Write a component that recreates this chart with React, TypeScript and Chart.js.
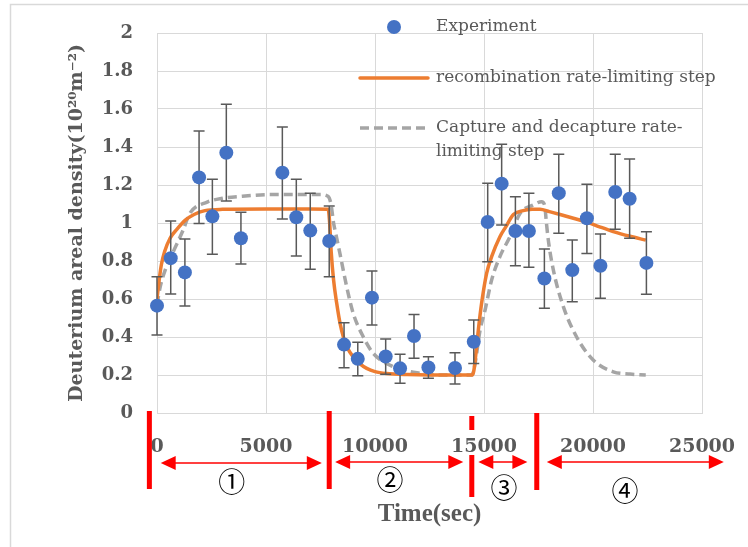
import React, { useEffect, useRef } from "react";
import { Chart, registerables } from "chart.js";

Chart.register(...registerables);

// ---- Data ----
const expTime = [0, 630, 1280, 1930, 2540, 3180, 3850, 5750, 6390, 7030, 7900, 8580, 9210, 9860, 10490, 11150, 11790, 12450, 13670, 14530, 15170, 15810, 16440, 17060, 17770, 18430, 19050, 19720, 20340, 21020, 21680, 22450];
const expValue = [0.565, 0.815, 0.74, 1.24, 1.035, 1.37, 0.92, 1.265, 1.03, 0.96, 0.905, 0.36, 0.285, 0.607, 0.297, 0.235, 0.405, 0.24, 0.237, 0.375, 1.005, 1.207, 0.958, 0.958, 0.708, 1.157, 0.752, 1.025, 0.775, 1.163, 1.128, 0.79];
const expLower = [0.41, 0.626, 0.563, 0.998, 0.835, 1.116, 0.784, 1.021, 0.826, 0.756, 0.717, 0.238, 0.196, 0.463, 0.204, 0.156, 0.288, 0.183, 0.153, 0.26, 0.796, 0.99, 0.775, 0.767, 0.551, 0.946, 0.586, 0.84, 0.604, 0.967, 0.92, 0.625];
const expUpper = [0.717, 1.01, 0.916, 1.484, 1.23, 1.625, 1.056, 1.505, 1.23, 1.156, 1.09, 0.475, 0.372, 0.747, 0.39, 0.309, 0.519, 0.296, 0.317, 0.489, 1.209, 1.414, 1.138, 1.156, 0.863, 1.362, 0.911, 1.204, 0.942, 1.362, 1.337, 0.954];

const recTime = [0, 100, 200, 350, 600, 900, 1300, 1700, 2200, 3000, 5000, 7000, 7850, 7920, 7990, 8100, 8240, 8400, 8550, 8750, 9000, 9300, 9620, 10000, 10530, 11500, 12500, 13500, 14450, 14530, 14630, 14740, 14890, 15120, 15350, 15730, 16000, 16350, 16800, 17200, 17570, 18000, 18490, 19100, 19710, 20300, 20930, 21700, 22420];
const recValue = [0.6, 0.7, 0.78, 0.85, 0.92, 0.965, 1.015, 1.045, 1.065, 1.072, 1.074, 1.074, 1.073, 1.0, 0.85, 0.7, 0.58, 0.47, 0.4, 0.34, 0.296, 0.26, 0.235, 0.218, 0.208, 0.202, 0.2, 0.2, 0.2, 0.22, 0.314, 0.437, 0.577, 0.735, 0.823, 0.928, 0.98, 1.045, 1.065, 1.072, 1.073, 1.06, 1.045, 1.025, 1.005, 0.98, 0.955, 0.93, 0.91];

const capTime = [0, 150, 400, 750, 1200, 1500, 2300, 3000, 3800, 5300, 7500, 7850, 7980, 8100, 8165, 8390, 8700, 9000, 9465, 9920, 10840, 12060, 13000, 14450, 14590, 14820, 15050, 15350, 15730, 16190, 16650, 17260, 17640, 17790, 17850, 17950, 18180, 18640, 19250, 20010, 20930, 21700, 22420];
const capValue = [0.57, 0.665, 0.76, 0.85, 0.963, 1.05, 1.11, 1.13, 1.14, 1.15, 1.15, 1.14, 1.1, 1.0, 0.963, 0.84, 0.665, 0.525, 0.4, 0.314, 0.244, 0.209, 0.2, 0.2, 0.26, 0.437, 0.542, 0.7, 0.823, 0.928, 1.05, 1.095, 1.112, 1.09, 1.016, 0.91, 0.753, 0.56, 0.4, 0.279, 0.217, 0.205, 0.2];

const xTickLabels = ["0", "5000", "10000", "15000", "20000", "25000"];
const yTickLabels = ["0", "0.2", "0.4", "0.6", "0.8", "1", "1.2", "1.4", "1.6", "1.8", "2"];

const seriesNames = ["Experiment", "recombination rate-limiting step", "Capture and decapture rate-limiting step"];
const legendLines = [["Experiment"], ["recombination rate-limiting step"], ["Capture and decapture rate-", "limiting step"]];

const phaseBounds = [-350, 7900, 14440, 17420];
const phaseArrows = [[170, 7560], [8170, 14050], [14740, 16990], [17880, 26000]];
const phaseLabels = ["①", "②", "③", "④"];
const phaseLabelX = [3430, 10690, 15920, 21470];

const BLUE = "#4472C4";
const ORANGE = "#ED7D31";
const GRAY = "#A5A5A5";
const TEXT = "#595959";
const GRID = "#D9D9D9";
const RED = "#FF0000";

const framePlugin = {
  id: "frame",
  beforeDraw(chart: any) {
    const ctx = chart.ctx;
    ctx.save();
    ctx.fillStyle = "#ffffff";
    ctx.fillRect(0, 0, chart.width, chart.height);
    ctx.strokeStyle = GRID;
    ctx.lineWidth = 1.5;
    ctx.strokeRect(10.5, 4.5, chart.width + 20, chart.height + 20);
    ctx.restore();
  },
};

const legendPlugin = {
  id: "customLegend",
  beforeDatasetsDraw(chart: any) {
    const ctx = chart.ctx;
    ctx.save();
    ctx.font = "17px 'DejaVu Serif'";
    ctx.fillStyle = TEXT;
    ctx.textBaseline = "middle";
    ctx.textAlign = "left";
    const rows = [27, 78, 128];
    ctx.beginPath();
    ctx.arc(394, rows[0], 7, 0, Math.PI * 2);
    ctx.fillStyle = BLUE;
    ctx.fill();
    ctx.strokeStyle = ORANGE;
    ctx.lineWidth = 3.5;
    ctx.lineCap = "round";
    ctx.beginPath();
    ctx.moveTo(360, rows[1]);
    ctx.lineTo(428, rows[1]);
    ctx.stroke();
    ctx.strokeStyle = GRAY;
    ctx.lineCap = "butt";
    ctx.setLineDash([9, 5]);
    ctx.beginPath();
    ctx.moveTo(360, rows[2]);
    ctx.lineTo(428, rows[2]);
    ctx.stroke();
    ctx.setLineDash([]);
    ctx.fillStyle = TEXT;
    legendLines.forEach((lines, i) => {
      lines.forEach((t, j) => ctx.fillText(t, 436, rows[i] + j * 23.5));
    });
    ctx.restore();
  },
};

const errorBarPlugin = {
  id: "errorBars",
  beforeDatasetDraw(chart: any, args: any) {
    if (args.index !== 0) return;
    const ctx = chart.ctx;
    const xs = chart.scales.x;
    const ys = chart.scales.y;
    ctx.save();
    ctx.strokeStyle = TEXT;
    ctx.lineWidth = 1.5;
    expTime.forEach((t, i) => {
      const x = xs.getPixelForValue(t);
      const y1 = ys.getPixelForValue(expLower[i]);
      const y2 = ys.getPixelForValue(expUpper[i]);
      ctx.beginPath();
      ctx.moveTo(x, y1);
      ctx.lineTo(x, y2);
      ctx.moveTo(x - 5.5, y1);
      ctx.lineTo(x + 5.5, y1);
      ctx.moveTo(x - 5.5, y2);
      ctx.lineTo(x + 5.5, y2);
      ctx.stroke();
    });
    ctx.restore();
  },
};

const phasePlugin = {
  id: "phases",
  afterDraw(chart: any) {
    const ctx = chart.ctx;
    const xs = chart.scales.x;
    ctx.save();
    ctx.fillStyle = RED;
    const barSpans = [[[411, 489]], [[411, 489]], [[416, 430], [455, 497]], [[413, 490]]];
    phaseBounds.forEach((t, i) => {
      const x = xs.getPixelForValue(t);
      barSpans[i].forEach(([a, b]) => ctx.fillRect(x - 2.5, a, 5, b - a));
    });
    const arrowY = [463, 462, 462, 462];
    ctx.strokeStyle = RED;
    ctx.lineWidth = 1.5;
    phaseArrows.forEach(([a, b], i) => {
      const x1 = xs.getPixelForValue(a);
      const x2 = xs.getPixelForValue(b);
      const y = arrowY[i];
      ctx.beginPath();
      ctx.moveTo(x1 + 10, y);
      ctx.lineTo(x2 - 10, y);
      ctx.stroke();
      ctx.beginPath();
      ctx.moveTo(x1, y);
      ctx.lineTo(x1 + 15, y - 7);
      ctx.lineTo(x1 + 15, y + 7);
      ctx.closePath();
      ctx.fill();
      ctx.beginPath();
      ctx.moveTo(x2, y);
      ctx.lineTo(x2 - 15, y - 7);
      ctx.lineTo(x2 - 15, y + 7);
      ctx.closePath();
      ctx.fill();
    });
    const labelY = [482, 480, 488, 491];
    ctx.fillStyle = "#000000";
    ctx.font = "27px 'Noto Sans CJK JP'";
    ctx.textAlign = "center";
    ctx.textBaseline = "middle";
    phaseLabels.forEach((l, i) => {
      ctx.fillText(l, xs.getPixelForValue(phaseLabelX[i]), labelY[i]);
    });
    ctx.restore();
  },
};

export default function App() {
  const ref = useRef<HTMLCanvasElement | null>(null);
  useEffect(() => {
    if (!ref.current) return;
    const chart = new Chart(ref.current, {
      type: "line",
      data: {
        datasets: [
          {
            label: seriesNames[0],
            data: expTime.map((t, i) => ({ x: t, y: expValue[i] })),
            showLine: false,
            pointRadius: 7,
            pointBackgroundColor: BLUE,
            pointBorderColor: BLUE,
            pointBorderWidth: 0,
            clip: false as any,
          },
          {
            label: seriesNames[1],
            data: recTime.map((t, i) => ({ x: t, y: recValue[i] })),
            borderColor: ORANGE,
            borderWidth: 3.5,
            pointRadius: 0,
            cubicInterpolationMode: "monotone",
            fill: false,
          },
          {
            label: seriesNames[2],
            data: capTime.map((t, i) => ({ x: t, y: capValue[i] })),
            borderColor: GRAY,
            borderWidth: 3.5,
            borderDash: [9, 5],
            pointRadius: 0,
            cubicInterpolationMode: "monotone",
            fill: false,
          },
        ],
      },
      options: {
        animation: false,
        responsive: false,
        events: [],
        layout: { padding: { top: 33, right: 46, left: 0, bottom: 0 } },
        plugins: { legend: { display: false }, tooltip: { enabled: false } },
        scales: {
          x: {
            type: "linear",
            min: 0,
            max: 25000,
            afterFit: (s: any) => {
              s.height = 134;
              s.paddingLeft = 0;
              s.paddingRight = 0;
            },
            ticks: {
              stepSize: 5000,
              color: TEXT,
              font: { family: "'DejaVu Serif'", size: 19, weight: "bold" },
              padding: 23,
              maxRotation: 0,
              callback: (v: any, i: number) => xTickLabels[i] ?? String(v),
            },
            grid: { color: GRID, lineWidth: 1, drawTicks: false },
            border: { color: GRID },
            title: {
              display: true,
              text: "Time(sec)",
              color: TEXT,
              font: { family: "'Liberation Serif'", size: 25, weight: "bold" },
              padding: { top: 0, bottom: 17 },
            },
          },
          y: {
            min: 0,
            max: 2,
            afterFit: (s: any) => {
              s.width = 157;
              s.paddingTop = 0;
              s.paddingBottom = 0;
            },
            ticks: {
              stepSize: 0.2,
              color: TEXT,
              font: { family: "'DejaVu Serif'", size: 18, weight: "bold" },
              padding: 24,
              callback: (v: any, i: number) => yTickLabels[i] ?? String(v),
            },
            grid: { color: GRID, lineWidth: 1, drawTicks: false },
            border: { color: GRID },
            title: {
              display: true,
              text: "Deuterium areal density(10²⁰m⁻²)",
              color: TEXT,
              font: { family: "'DejaVu Serif'", size: 19, weight: "bold" },
              padding: { top: 66, bottom: 0 },
            },
          },
        },
      },
      plugins: [framePlugin, legendPlugin, errorBarPlugin, phasePlugin],
    });
    return () => chart.destroy();
  }, []);
  return (
    <div style={{ position: "absolute", left: 0, top: 0, width: 748, height: 547 }}>
      <canvas ref={ref} width={748} height={547} />
    </div>
  );
}
